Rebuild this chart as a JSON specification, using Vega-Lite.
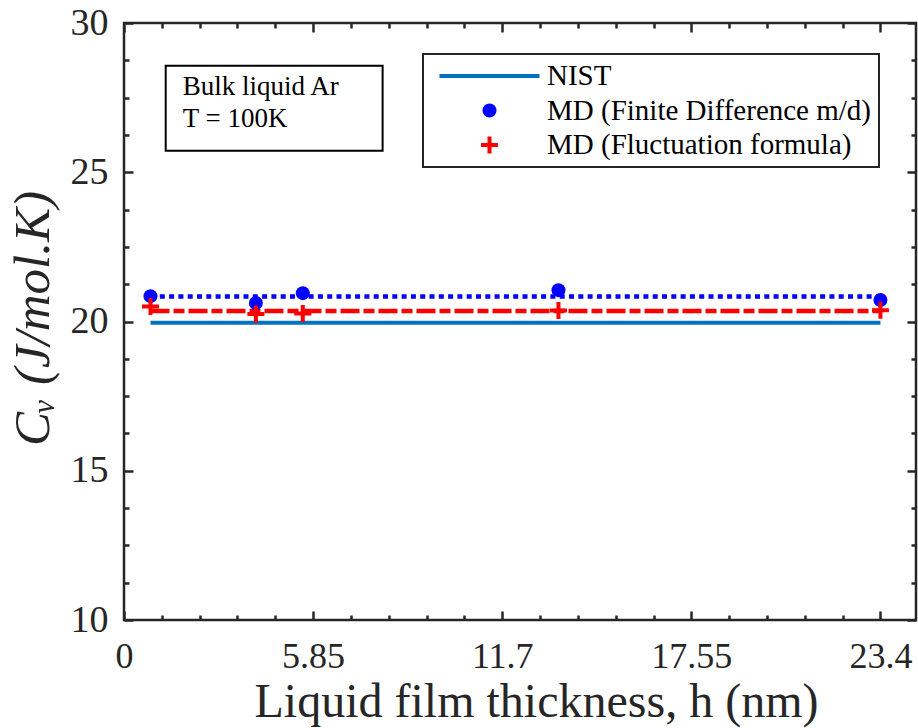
{
  "$schema": "https://vega.github.io/schema/vega-lite/v6.json",
  "width": 792,
  "height": 597,
  "autosize": "none",
  "padding": {"left": 124, "top": 23, "right": 2, "bottom": 108},
  "background": "white",
  "config": {
    "view": {"stroke": "#262626", "strokeWidth": 2.5},
    "font": "Liberation Serif",
    "axis": {
      "grid": false,
      "domain": false,
      "labelFont": "Liberation Serif",
      "titleFont": "Liberation Serif",
      "tickColor": "#262626",
      "tickWidth": 2.5,
      "labelColor": "#262626",
      "titleColor": "#262626",
      "titleFontWeight": "normal",
      "labelFlush": false,
      "labelOverlap": false
    }
  },
  "datasets": {
    "md": [
      {"h": 0.82, "cv": 20.85, "series": "MD (Finite Difference m/d)"},
      {"h": 4.08, "cv": 20.62, "series": "MD (Finite Difference m/d)"},
      {"h": 5.53, "cv": 20.95, "series": "MD (Finite Difference m/d)"},
      {"h": 13.44, "cv": 21.05, "series": "MD (Finite Difference m/d)"},
      {"h": 23.4, "cv": 20.72, "series": "MD (Finite Difference m/d)"},
      {"h": 0.82, "cv": 20.5, "series": "MD (Fluctuation formula)"},
      {"h": 4.08, "cv": 20.25, "series": "MD (Fluctuation formula)"},
      {"h": 5.53, "cv": 20.27, "series": "MD (Fluctuation formula)"},
      {"h": 13.44, "cv": 20.37, "series": "MD (Fluctuation formula)"},
      {"h": 23.4, "cv": 20.38, "series": "MD (Fluctuation formula)"}
    ],
    "nist": [
      {"h": 0.82, "cv": 19.96, "series": "NIST"},
      {"h": 4.08, "cv": 19.96, "series": "NIST"},
      {"h": 5.53, "cv": 19.96, "series": "NIST"},
      {"h": 13.44, "cv": 19.96, "series": "NIST"},
      {"h": 23.4, "cv": 19.96, "series": "NIST"}
    ]
  },
  "resolve": {"axis": {"x": "independent", "y": "independent"}},
  "layer": [
    {
      "data": {"name": "nist"},
      "mark": {"type": "line", "strokeWidth": 4, "strokeCap": "butt"},
      "encoding": {
        "x": {
          "field": "h", "type": "quantitative",
          "scale": {"domain": [0, 24.5], "nice": false, "zero": false},
          "axis": {
            "orient": "bottom",
            "values": [0, 5.85, 11.7, 17.55, 23.4],
            "format": ".2~f",
            "offset": -9,
            "tickSize": 9,
            "labelFontSize": 36,
            "labelBaseline": "middle",
            "labelPadding": 36,
            "title": "Liquid film thickness, h (nm)",
            "titleFontSize": 48,
            "titleBaseline": "alphabetic",
            "titleAlign": "center",
            "titleX": 412,
            "titleY": 105
          }
        },
        "y": {
          "field": "cv", "type": "quantitative",
          "scale": {"domain": [10, 30], "nice": false, "zero": false},
          "axis": {
            "orient": "left",
            "values": [10, 15, 20, 25, 30],
            "format": ".0f",
            "offset": -9,
            "tickSize": 9,
            "labelFontSize": 38,
            "labelPadding": 16,
            "title": "Cᵥ (J/mol.K)",
            "titleFontSize": 51,
            "titleFontStyle": "italic",
            "titleAngle": 270,
            "titleBaseline": "alphabetic",
            "titleAlign": "center",
            "titleX": -85,
            "titleY": 295
          }
        },
        "color": {
          "field": "series", "type": "nominal",
          "scale": {
            "domain": ["NIST", "MD (Finite Difference m/d)", "MD (Fluctuation formula)"],
            "range": ["#0072BD", "#0000FF", "#FF0000"]
          },
          "legend": {
            "title": null,
            "orient": "none",
            "legendX": 299,
            "legendY": 31,
            "padding": 7,
            "fillColor": "white",
            "strokeColor": "#262626",
            "labelFont": "Liberation Serif",
            "labelFontSize": 29,
            "labelColor": "#000000",
            "labelBaseline": "middle",
            "labelOffset": 43,
            "labelLimit": 600,
            "clipHeight": 30,
            "rowPadding": 4.5,
            "symbolOffset": 45,
            "encode": {
              "legend": {"update": {"strokeWidth": {"value": 2}}},
              "symbols": {
                "update": {
                  "shape": {"signal": "datum.value === 'NIST' ? 'stroke' : datum.value === 'MD (Finite Difference m/d)' ? 'circle' : 'M-1,0H1M0,-1V1'"},
                  "size": {"signal": "datum.value === 'NIST' ? 10000 : datum.value === 'MD (Finite Difference m/d)' ? 196 : 289"},
                  "strokeWidth": {"signal": "datum.value === 'MD (Finite Difference m/d)' ? 0 : 4"},
                  "stroke": {"scale": "color", "field": "value"},
                  "fill": {"signal": "datum.value === 'MD (Finite Difference m/d)' ? '#0000FF' : 'transparent'"},
                  "opacity": {"value": 1},
                  "fillOpacity": {"value": 1},
                  "strokeOpacity": {"value": 1}
                }
              }
            }
          }
        }
      }
    },
    {
      "data": {"name": "md"},
      "transform": [{"filter": "datum.series === 'MD (Finite Difference m/d)'"}],
      "mark": {"type": "rule", "strokeWidth": 4.5, "strokeDash": [5, 4.3], "strokeCap": "butt"},
      "encoding": {
        "x": {
          "aggregate": "min", "field": "h", "type": "quantitative",
          "scale": {"domain": [0, 24.5], "nice": false, "zero": false},
          "axis": {"orient": "top", "values": [0, 5.85, 11.7, 17.55, 23.4], "offset": -9, "tickSize": 9, "labels": false, "title": null}
        },
        "x2": {"aggregate": "max", "field": "h"},
        "y": {
          "aggregate": "mean", "field": "cv", "type": "quantitative",
          "scale": {"domain": [10, 30], "nice": false, "zero": false},
          "axis": {"orient": "right", "values": [10, 15, 20, 25, 30], "offset": -9, "tickSize": 9, "labels": false, "title": null}
        },
        "color": {"field": "series", "type": "nominal"}
      }
    },
    {
      "data": {"name": "md"},
      "transform": [{"filter": "datum.series === 'MD (Fluctuation formula)'"}],
      "mark": {"type": "rule", "strokeWidth": 4.5, "strokeDash": [19, 4, 11, 4], "strokeCap": "butt"},
      "encoding": {
        "x": {
          "aggregate": "min", "field": "h", "type": "quantitative",
          "axis": {"orient": "bottom", "values": [1.17, 2.34, 3.51, 4.68, 7.02, 8.19, 9.36, 10.53, 12.87, 14.04, 15.21, 16.38, 18.72, 19.89, 21.06, 22.23], "offset": -5, "tickSize": 5, "labels": false, "title": null}
        },
        "x2": {"aggregate": "max", "field": "h"},
        "y": {
          "aggregate": "mean", "field": "cv", "type": "quantitative",
          "axis": {"orient": "left", "values": [11.25, 12.5, 13.75, 16.25, 17.5, 18.75, 21.25, 22.5, 23.75, 26.25, 27.5, 28.75], "offset": -5, "tickSize": 5, "labels": false, "title": null}
        },
        "color": {"field": "series", "type": "nominal"}
      }
    },
    {
      "data": {"name": "md"},
      "transform": [{"filter": "datum.series === 'MD (Finite Difference m/d)'"}],
      "mark": {"type": "point", "shape": "circle", "filled": true, "size": 196, "opacity": 1},
      "encoding": {
        "x": {
          "field": "h", "type": "quantitative",
          "axis": {"orient": "top", "values": [1.17, 2.34, 3.51, 4.68, 7.02, 8.19, 9.36, 10.53, 12.87, 14.04, 15.21, 16.38, 18.72, 19.89, 21.06, 22.23], "offset": -5, "tickSize": 5, "labels": false, "title": null}
        },
        "y": {
          "field": "cv", "type": "quantitative",
          "axis": {"orient": "right", "values": [11.25, 12.5, 13.75, 16.25, 17.5, 18.75, 21.25, 22.5, 23.75, 26.25, 27.5, 28.75], "offset": -5, "tickSize": 5, "labels": false, "title": null}
        },
        "color": {"field": "series", "type": "nominal"}
      }
    },
    {
      "data": {"name": "md"},
      "transform": [{"filter": "datum.series === 'MD (Fluctuation formula)'"}],
      "mark": {"type": "point", "shape": "M-1,0H1M0,-1V1", "filled": false, "size": 289, "strokeWidth": 4, "strokeCap": "butt", "opacity": 1},
      "encoding": {
        "x": {"field": "h", "type": "quantitative", "axis": null},
        "y": {"field": "cv", "type": "quantitative", "axis": null},
        "color": {"field": "series", "type": "nominal"}
      }
    },
    {
      "data": {"values": [{}]},
      "mark": {"type": "rect", "fill": "white", "fillOpacity": 0, "stroke": "#000000", "strokeWidth": 2},
      "encoding": {
        "x": {"datum": 1.29, "type": "quantitative", "axis": null},
        "x2": {"datum": 8.0},
        "y": {"datum": 28.57, "type": "quantitative", "axis": null},
        "y2": {"datum": 25.72}
      }
    },
    {
      "data": {"values": [{}]},
      "mark": {
        "type": "text",
        "text": ["Bulk liquid Ar", "T = 100K"],
        "font": "Liberation Serif",
        "fontSize": 27,
        "lineHeight": 32,
        "align": "left",
        "baseline": "alphabetic",
        "color": "#000000"
      },
      "encoding": {
        "x": {"datum": 1.82, "type": "quantitative", "axis": null},
        "y": {"datum": 27.59, "type": "quantitative", "axis": null}
      }
    }
  ]
}
